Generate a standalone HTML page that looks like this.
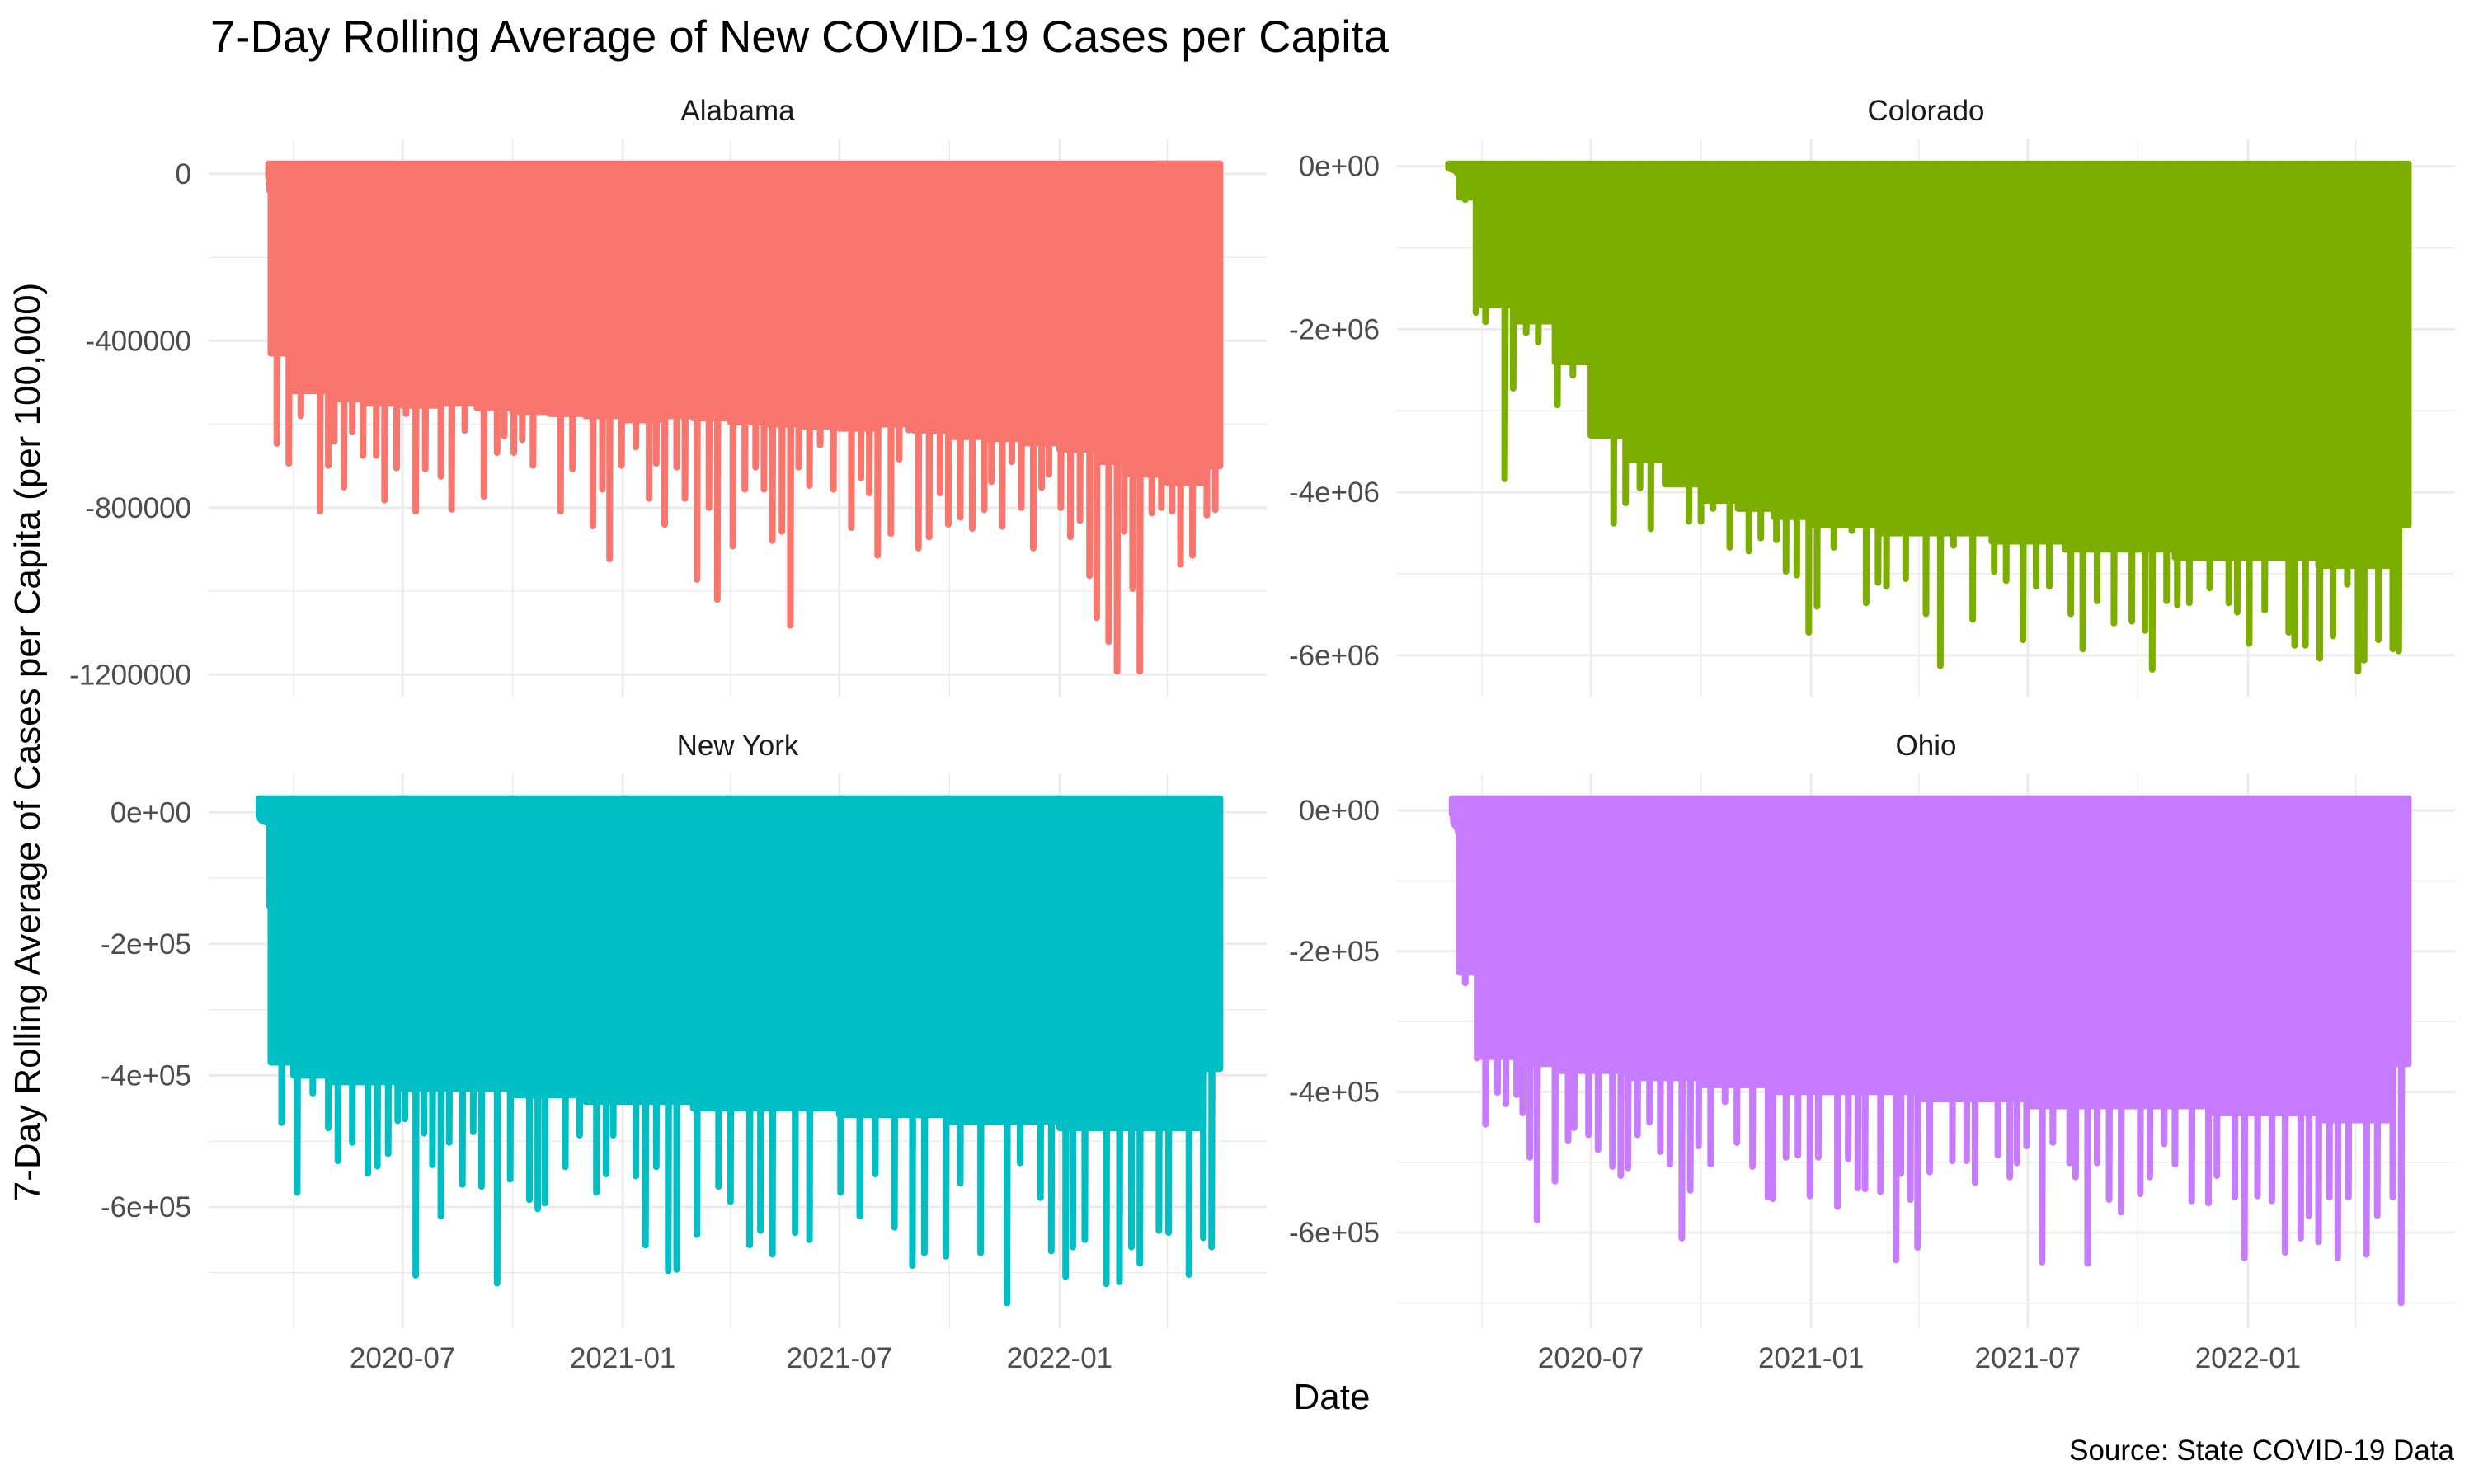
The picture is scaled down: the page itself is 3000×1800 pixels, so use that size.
<!DOCTYPE html>
<html><head><meta charset="utf-8"><title>7-Day Rolling Average of New COVID-19 Cases per Capita</title>
<style>html,body{margin:0;padding:0;background:#fff}svg{display:block}text{font-family:"Liberation Sans",Arial,sans-serif}</style>
</head><body>
<svg id="chart" width="3000" height="1800" viewBox="0 0 3000 1800" xmlns="http://www.w3.org/2000/svg">
<rect x="0" y="0" width="3000" height="1800" fill="#fff"/>
<text x="255" y="63" font-size="54.5" fill="#000">7-Day Rolling Average of New COVID-19 Cases per Capita</text>
<text transform="translate(48,900) rotate(-90)" text-anchor="middle" font-size="44" fill="#000">7-Day Rolling Average of Cases per Capita (per 100,000)</text>
<text x="1615" y="1709" text-anchor="middle" font-size="44" fill="#000">Date</text>
<text x="2976" y="1771" text-anchor="end" font-size="35" fill="#000">Source: State COVID-19 Data</text>
<g id="panels"></g>
</svg>
<script>
// ---- data (day index relative to 2020-03-13) ----
const alabamaSpikeDays = [-2,-1,5,15,25,31,41,48,53,61,68,77,88,95,105,113,121,129,142,151,162,178,189,195,203,210,219,231,242,252,269,277,283,293,305,316,322,329,339,346,356,366,373,386,396,405,412,419,427,434,441,450,459,470,485,493,500,507,518,525,533,541,550,559,566,576,586,596,602,611,619,627,637,644,650,660,668,676,684,690,700,707,713,720,726,736,744,753,760,770,782,789];
const alabamaSpikeVals = [-10000,-40000,-646000,-694000,-580000,-448000,-809000,-699000,-641000,-751000,-619000,-675000,-675000,-782000,-705000,-575000,-809000,-707000,-725000,-804000,-615000,-773000,-668000,-628000,-668000,-637000,-699000,-558000,-809000,-707000,-844000,-756000,-923000,-699000,-655000,-778000,-694000,-840000,-703000,-778000,-972000,-800000,-1020000,-892000,-756000,-703000,-756000,-879000,-857000,-1082000,-703000,-747000,-650000,-756000,-848000,-729000,-765000,-914000,-862000,-684000,-614000,-897000,-870000,-765000,-840000,-823000,-850000,-805000,-738000,-845000,-690000,-800000,-897000,-752000,-720000,-800000,-870000,-831000,-963000,-1064000,-1121000,-1192000,-857000,-994000,-1192000,-813000,-800000,-809000,-936000,-914000,-818000,-805000];
const alabamaFloor = [-430000,-520000,-540000,-550000,-555000,-550000,-560000,-570000,-575000,-580000,-590000,-580000,-585000,-595000,-600000,-605000,-610000,-600000,-615000,-630000,-635000,-645000,-660000,-690000,-720000,-740000,-700000];
const alabamaTop = [24000];
const alabamaStart = [-2];

const coloradoSpikeDays = [-9,-8,-7,-6,-5,-4,-3,-2,-1,5,14,22,38,45,56,66,82,95,112,119,129,139,151,160,173,192,202,212,226,242,252,265,273,282,292,299,313,328,340,350,357,373,390,402,413,429,447,457,471,482,493,511,521,533,547,562,573,579,591,600,610,627,643,650,660,673,693,698,707,719,730,742,751,756,768,780,785];
const coloradoSpikeVals = [-20000,-30000,-30000,-40000,-40000,-50000,-60000,-80000,-100000,-409000,-1793000,-1906000,-3836000,-2723000,-2043000,-2156000,-2928000,-2565000,-2928000,-2474000,-4380000,-4130000,-3949000,-4448000,-3881000,-4357000,-4357000,-4199000,-4675000,-4721000,-4562000,-4584000,-4970000,-5016000,-5719000,-5401000,-4675000,-4471000,-5356000,-5106000,-5152000,-5061000,-5492000,-6128000,-4652000,-5560000,-4970000,-5084000,-5810000,-5152000,-5152000,-5492000,-5923000,-5333000,-5606000,-5583000,-5696000,-6173000,-5333000,-5379000,-5356000,-5174000,-5356000,-5470000,-5855000,-5447000,-5719000,-5878000,-5878000,-6037000,-5764000,-5129000,-6196000,-6060000,-5810000,-5923000,-5946000];
const coloradoFloor = [-380000,-1700000,-1900000,-2400000,-3300000,-3600000,-3900000,-4100000,-4200000,-4300000,-4400000,-4400000,-4500000,-4500000,-4500000,-4600000,-4600000,-4700000,-4700000,-4700000,-4800000,-4800000,-4800000,-4800000,-4900000,-4900000,-4400000];
const coloradoTop = [30000];
const coloradoStart = [-9];

const newYorkSpikeDays = [-10,-9,-8,-7,-6,-5,-4,-3,-2,-1,2,9,22,35,48,56,68,81,89,98,106,112,121,128,135,142,149,160,169,176,189,200,216,223,229,246,258,272,280,286,305,313,322,332,339,356,374,384,400,409,419,438,450,476,492,505,521,536,546,564,576,593,615,626,643,652,664,670,680,698,709,719,726,742,750,767,779,786];
const newYorkSpikeVals = [-5000,-10000,-12000,-12000,-14000,-14000,-15000,-15000,-15000,-143000,-243000,-472000,-578000,-427000,-480000,-530000,-502000,-549000,-538000,-519000,-469000,-466000,-704000,-488000,-536000,-614000,-502000,-566000,-486000,-569000,-716000,-558000,-589000,-603000,-594000,-539000,-491000,-578000,-550000,-491000,-553000,-658000,-539000,-697000,-695000,-642000,-569000,-592000,-658000,-636000,-672000,-639000,-650000,-578000,-614000,-550000,-631000,-689000,-670000,-675000,-564000,-670000,-746000,-533000,-586000,-667000,-706000,-661000,-650000,-717000,-714000,-661000,-686000,-636000,-639000,-703000,-647000,-661000];
const newYorkFloor = [-380000,-400000,-410000,-410000,-420000,-420000,-420000,-430000,-430000,-440000,-440000,-440000,-450000,-450000,-450000,-450000,-460000,-460000,-460000,-470000,-470000,-470000,-480000,-480000,-480000,-480000,-390000];
const newYorkTop = [21000];
const newYorkStart = [-10];

const ohioSpikeDays = [-6,-5,-4,-3,-2,-1,2,5,15,22,32,39,48,53,59,65,80,91,96,108,116,128,135,141,149,159,168,176,186,193,200,210,222,232,245,258,262,273,283,293,300,316,325,333,339,352,365,369,377,383,393,412,424,431,450,460,466,474,487,496,510,515,525,533,543,553,569,577,589,598,612,626,633,648,656,667,679,690,703,710,718,727,734,743,758,767,780,787];
const ohioSpikeVals = [-5000,-15000,-20000,-22000,-25000,-30000,-219000,-245000,-352000,-446000,-401000,-417000,-404000,-430000,-493000,-582000,-527000,-469000,-451000,-461000,-482000,-506000,-519000,-508000,-461000,-443000,-485000,-503000,-608000,-540000,-477000,-503000,-414000,-472000,-506000,-550000,-552000,-493000,-490000,-548000,-493000,-563000,-495000,-537000,-538000,-542000,-639000,-516000,-553000,-621000,-514000,-498000,-498000,-529000,-490000,-521000,-501000,-477000,-642000,-472000,-501000,-521000,-644000,-501000,-553000,-571000,-545000,-521000,-474000,-503000,-555000,-558000,-519000,-550000,-636000,-548000,-555000,-628000,-608000,-576000,-613000,-550000,-636000,-550000,-631000,-576000,-550000,-700000];
const ohioFloor = [-230000,-350000,-360000,-370000,-370000,-380000,-380000,-390000,-390000,-400000,-400000,-400000,-400000,-410000,-410000,-410000,-420000,-420000,-420000,-420000,-420000,-430000,-430000,-430000,-440000,-440000,-360000];
const ohioTop = [17000];
const ohioStart = [-6];

const lastDay = [793];
const xMajorTicks = ["2020-07-01","2021-01-01","2021-07-01","2022-01-01"];
const xMajorLabels = ["2020-07","2021-01","2021-07","2022-01"];
const xMinorTicks = ["2020-04-01","2020-10-01","2021-04-01","2021-10-01","2022-04-01"];
const alabamaYTicks = [0,-400000,-800000,-1200000];
const alabamaYLabels = ["0","-400000","-800000","-1200000"];
const alabamaYMinor = [-200000,-600000,-1000000];
const coloradoYTicks = [0,-2000000,-4000000,-6000000];
const coloradoYLabels = ["0e+00","-2e+06","-4e+06","-6e+06"];
const coloradoYMinor = [-1000000,-3000000,-5000000];
const newYorkYTicks = [0,-200000,-400000,-600000];
const newYorkYLabels = ["0e+00","-2e+05","-4e+05","-6e+05"];
const newYorkYMinor = [-100000,-300000,-500000,-700000];
const ohioYTicks = [0,-200000,-400000,-600000];
const ohioYLabels = ["0e+00","-2e+05","-4e+05","-6e+05"];
const ohioYMinor = [-100000,-300000,-500000,-700000];

const NS = "http://www.w3.org/2000/svg";
const BASE = Date.UTC(2020,2,13);
const XMIN = Date.UTC(2020,0,21);
const XSPAN = 884*864e5;
const root = document.getElementById('panels');

function el(tag, attrs, parent){const e=document.createElementNS(NS,tag);for(const k in attrs)e.setAttribute(k,attrs[k]);parent.appendChild(e);return e;}
function parseDate(s){const p=s.split('-');return Date.UTC(+p[0],+p[1]-1,+p[2]);}

function buildSeries(spikeDays, spikeVals, floor, start){
  const map = {};
  spikeDays.forEach((d,i)=>{map[d]=spikeVals[i];});
  const out=[];
  for(let d=start; d<=lastDay[0]; d++){
    const dt=new Date(BASE+d*864e5);
    let m=(dt.getUTCFullYear()-2020)*12+dt.getUTCMonth()-2;
    m=Math.max(0,Math.min(floor.length-1,m));
    out.push([d, map[d]!==undefined?map[d]:floor[m]]);
  }
  return out;
}

function drawPanel(cfg){
  const g=el('g',{},root);
  
  
  const series=buildSeries(cfg.days,cfg.vals,cfg.floor,cfg.start[0]);
  let vmin=Infinity; series.forEach(p=>{if(p[1]<vmin)vmin=p[1];});
  const vmax=cfg.top[0];
  const pad=(vmax-vmin)*0.05;
  const y0=vmin-pad, y1=vmax+pad;
  const xs=ms=>cfg.L+(ms-XMIN)/XSPAN*(cfg.R-cfg.L);
  const xd=d=>xs(BASE+d*864e5);
  const ys=v=>cfg.T+(y1-v)/(y1-y0)*(cfg.B-cfg.T);
  cfg.yMinor.forEach(v=>{if(v<y0||v>y1)return;const l=el('line',{x1:cfg.L,x2:cfg.R,y1:ys(v),y2:ys(v),stroke:'#ebebeb','stroke-width':1.4},g);
    
    });
  xMinorTicks.forEach(s=>{const x=xs(parseDate(s));const l=el('line',{x1:x,x2:x,y1:cfg.T,y2:cfg.B,stroke:'#ebebeb','stroke-width':1.4},g);
    
    });
  cfg.yTicks.forEach((v,i)=>{const y=ys(v);const l=el('line',{x1:cfg.L,x2:cfg.R,y1:y,y2:y,stroke:'#ebebeb','stroke-width':2.8},g);
    
    
    const t=el('text',{x:cfg.L-21,y:y+12,'text-anchor':'end','font-size':35,fill:'#4d4d4d'},g);t.textContent=cfg.yLabels[i];
    
    });
  xMajorTicks.forEach((s,i)=>{const x=xs(parseDate(s));const l=el('line',{x1:x,x2:x,y1:cfg.T,y2:cfg.B,stroke:'#ebebeb','stroke-width':2.8},g);
    
    
    if(cfg.showX){const t=el('text',{x:x,y:cfg.B+48,'text-anchor':'middle','font-size':35,fill:'#4d4d4d'},g);t.textContent=xMajorLabels[i];
      
      }});
  let d='';
  series.forEach((p,i)=>{const x=xd(p[0]);d+=(i?'L':'M')+x.toFixed(1)+' '+ys(vmax).toFixed(1)+'L'+x.toFixed(1)+' '+ys(p[1]).toFixed(1);});
  const path=el('path',{d:d,fill:'none',stroke:cfg.color,'stroke-width':8,'stroke-linejoin':'round','stroke-linecap':'round'},g);
  
  
  const st=el('text',{x:(cfg.L+cfg.R)/2,y:cfg.T-22,'text-anchor':'middle','font-size':35,fill:'#1a1a1a'},g);
  st.textContent=cfg.title;
  
  
}

drawPanel({key:'alabama',title:'Alabama',L:253,R:1536,T:168,B:845,color:'#F8766D',days:alabamaSpikeDays,vals:alabamaSpikeVals,floor:alabamaFloor,top:alabamaTop,start:alabamaStart,yTicks:alabamaYTicks,yLabels:alabamaYLabels,yMinor:alabamaYMinor,showX:false});
drawPanel({key:'colorado',title:'Colorado',L:1694,R:2977,T:168,B:845,color:'#7CAE00',days:coloradoSpikeDays,vals:coloradoSpikeVals,floor:coloradoFloor,top:coloradoTop,start:coloradoStart,yTicks:coloradoYTicks,yLabels:coloradoYLabels,yMinor:coloradoYMinor,showX:false});
drawPanel({key:'new-york',title:'New York',L:253,R:1536,T:938,B:1611,color:'#00BFC4',days:newYorkSpikeDays,vals:newYorkSpikeVals,floor:newYorkFloor,top:newYorkTop,start:newYorkStart,yTicks:newYorkYTicks,yLabels:newYorkYLabels,yMinor:newYorkYMinor,showX:true});
drawPanel({key:'ohio',title:'Ohio',L:1694,R:2977,T:938,B:1611,color:'#C77CFF',days:ohioSpikeDays,vals:ohioSpikeVals,floor:ohioFloor,top:ohioTop,start:ohioStart,yTicks:ohioYTicks,yLabels:ohioYLabels,yMinor:ohioYMinor,showX:true});
</script>
</body></html>
